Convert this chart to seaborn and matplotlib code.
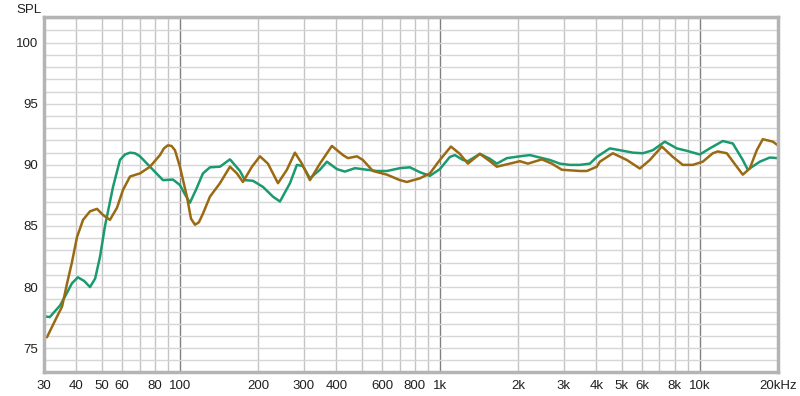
import numpy as np
import pandas as pd
import matplotlib
matplotlib.use("Agg")
import matplotlib.pyplot as plt
from matplotlib.ticker import FixedLocator, NullFormatter
import seaborn as sns

# green trace (frequency in Hz, level in dB)
freq_green = [30, 31.6, 34.6, 36.5, 38.4, 40.5, 42.8, 45.1, 47.2, 49.3, 51.5, 55.3, 58.8, 61.5, 64.3,
              67.2, 70.2, 76.7, 86.1, 94.0, 100, 104.5, 109.3, 115.5, 122.6, 130.5, 142.6, 155.8,
              170.2, 177.9, 190.9, 208.6, 228, 242.6, 265.1, 281.9, 297.4, 316.4, 345.7, 367.8,
              401.9, 431.3, 471.4, 524.2, 572.7, 625.7, 702.1, 767.1, 838.2, 915.7, 1000, 1093,
              1143, 1227, 1282, 1426, 1558, 1657, 1810, 2032, 2220, 2426, 2651, 2896, 3164, 3457,
              3777, 4018, 4508, 4926, 5527, 6039, 6598, 7337, 8160, 8916, 10005, 10932, 12264,
              13404, 14641, 15302, 17021, 18598, 19966]
spl_green = [77.6, 77.55, 78.5, 79.4, 80.3, 80.8, 80.5, 80.0, 80.7, 82.5, 85.0, 88.2, 90.4, 90.85, 91.0,
             90.95, 90.7, 89.85, 88.75, 88.8, 88.35, 87.6, 86.9, 88.0, 89.3, 89.8, 89.85, 90.45,
             89.5, 88.75, 88.7, 88.2, 87.4, 87.0, 88.5, 90.0, 89.9, 88.9, 89.6, 90.26,
             89.65, 89.45, 89.73, 89.6, 89.5, 89.5, 89.73, 89.8, 89.4, 89.1, 89.65, 90.65,
             90.8, 90.4, 90.3, 90.9, 90.5, 90.1, 90.55, 90.7, 90.8, 90.6, 90.4, 90.1, 90.0, 90.0,
             90.1, 90.65, 91.35, 91.2, 91.0, 90.95, 91.2, 91.9, 91.35, 91.15, 90.85, 91.35, 91.95,
             91.75, 90.4, 89.6, 90.26, 90.6, 90.55]

# brown trace
freq_brown = [30, 30.8, 33.7, 35.2, 36.8, 38.4, 40.2, 42.4, 45.1, 48.0, 50.6, 53.8, 57.3, 60.4,
              64.3, 70.2, 76.7, 83.8, 86.8, 89.9, 92.8, 95.7, 100, 106.4, 110.3, 114.3, 118.3,
              122.6, 130.5, 142.6, 155.8, 165.7, 174.8, 189.3, 203.2, 218.1, 238.4, 258.0, 277.0,
              294.7, 316.4, 345.7, 384.3, 423.9, 443.1, 479.8, 505.8, 552.6, 625.7, 702.1, 746.8,
              838.2, 915.7, 1000, 1103, 1194, 1282, 1426, 1558, 1657, 1944, 2032, 2182, 2469, 2698,
              2948, 3457, 3678, 4018, 4127, 4631, 5242, 5881, 6427, 7145, 7879, 8606, 9404,
              10273, 11224, 11733, 12706, 13883, 14641, 15573, 16572, 17479, 19100, 19966]
spl_brown = [75.9, 75.9, 77.6, 78.4, 80.3, 82.0, 84.1, 85.5, 86.2, 86.4, 85.9, 85.5, 86.5, 87.95,
             89.05, 89.3, 89.85, 90.8, 91.35, 91.6, 91.55, 91.2, 89.85, 87.4, 85.6, 85.1, 85.3,
             86.0, 87.4, 88.5, 89.85, 89.3, 88.6, 89.85, 90.7, 90.1, 88.5, 89.6, 91.0,
             90.1, 88.75, 90.1, 91.55, 90.8, 90.55, 90.7, 90.4, 89.5, 89.2, 88.75, 88.6,
             88.9, 89.3, 90.4, 91.5, 90.9, 90.1, 90.9, 90.3, 89.85, 90.2, 90.3, 90.1, 90.45, 90.1,
             89.6, 89.5, 89.5, 89.85, 90.26, 90.95, 90.4, 89.7, 90.4, 91.5, 90.65, 90.0, 90.0,
             90.26, 90.95, 91.1, 90.95, 89.85, 89.2, 89.7, 91.2, 92.1, 91.9, 91.6]

x_ticks = [30, 40, 50, 60, 80, 100, 200, 300, 400, 600, 800, 1000, 2000, 3000, 4000,
           5000, 6000, 8000, 10000, 20000]
x_labels = ['30', '40', '50', '60', '80', '100', '200', '300', '400', '600', '800', '1k',
            '2k', '3k', '4k', '5k', '6k', '8k', '10k', '20kHz']
y_ticks = [75, 80, 85, 90, 95, 100]

df_green = pd.DataFrame({'freq': freq_green, 'spl': spl_green})
df_brown = pd.DataFrame({'freq': freq_brown, 'spl': spl_brown})

sns.set_style('white')
plt.rcParams['font.family'] = ['Liberation Sans', 'DejaVu Sans']

fig = plt.figure(figsize=(8, 3.96), dpi=100)
ax = fig.add_axes([44 / 800, 1 - 372 / 396, 734 / 800, 355 / 396])

# grid
grid_x = [f * d for d in (10, 100, 1000, 10000) for f in range(1, 10)]
grid_x = [g for g in grid_x if 30 < g <= 20000]
for g in grid_x:
    dark = g in (100, 1000, 10000)
    ax.axvline(g, color='#808080' if dark else '#c4c4c4', lw=1, zorder=0)
for v in range(74, 103):
    ax.axhline(v, color='#d6d6d6', lw=1, zorder=0)

sns.lineplot(data=df_green, x='freq', y='spl', color='#1b9a6f', lw=1.8, ax=ax, sort=False,
             solid_joinstyle='round')
sns.lineplot(data=df_brown, x='freq', y='spl', color='#9a6a12', lw=1.8, ax=ax, sort=False,
             solid_joinstyle='round')

ax.set_xscale('log')
ax.set_xlim(30, 20000)
ax.set_ylim(73.05, 102.1)
ax.xaxis.set_major_locator(FixedLocator(x_ticks))
ax.set_xticklabels(x_labels)
ax.xaxis.set_minor_formatter(NullFormatter())
ax.xaxis.set_minor_locator(FixedLocator([]))
ax.set_yticks(y_ticks)
ax.set_yticklabels([str(v) for v in y_ticks])
ax.tick_params(axis='both', length=0, labelsize=9.5, colors='#202020')
ax.tick_params(axis='x', pad=6)
ax.tick_params(axis='y', pad=4)
ax.set_xlabel('')
ax.set_ylabel('')

for s in ax.spines.values():
    s.set_color('#b4b4b4')
    s.set_linewidth(2.5)

fig.text(16 / 800, 1 - 10 / 396, 'SPL', fontsize=9.5, color='#202020', va='center', ha='left')

fig.savefig('out.png', dpi=100)
